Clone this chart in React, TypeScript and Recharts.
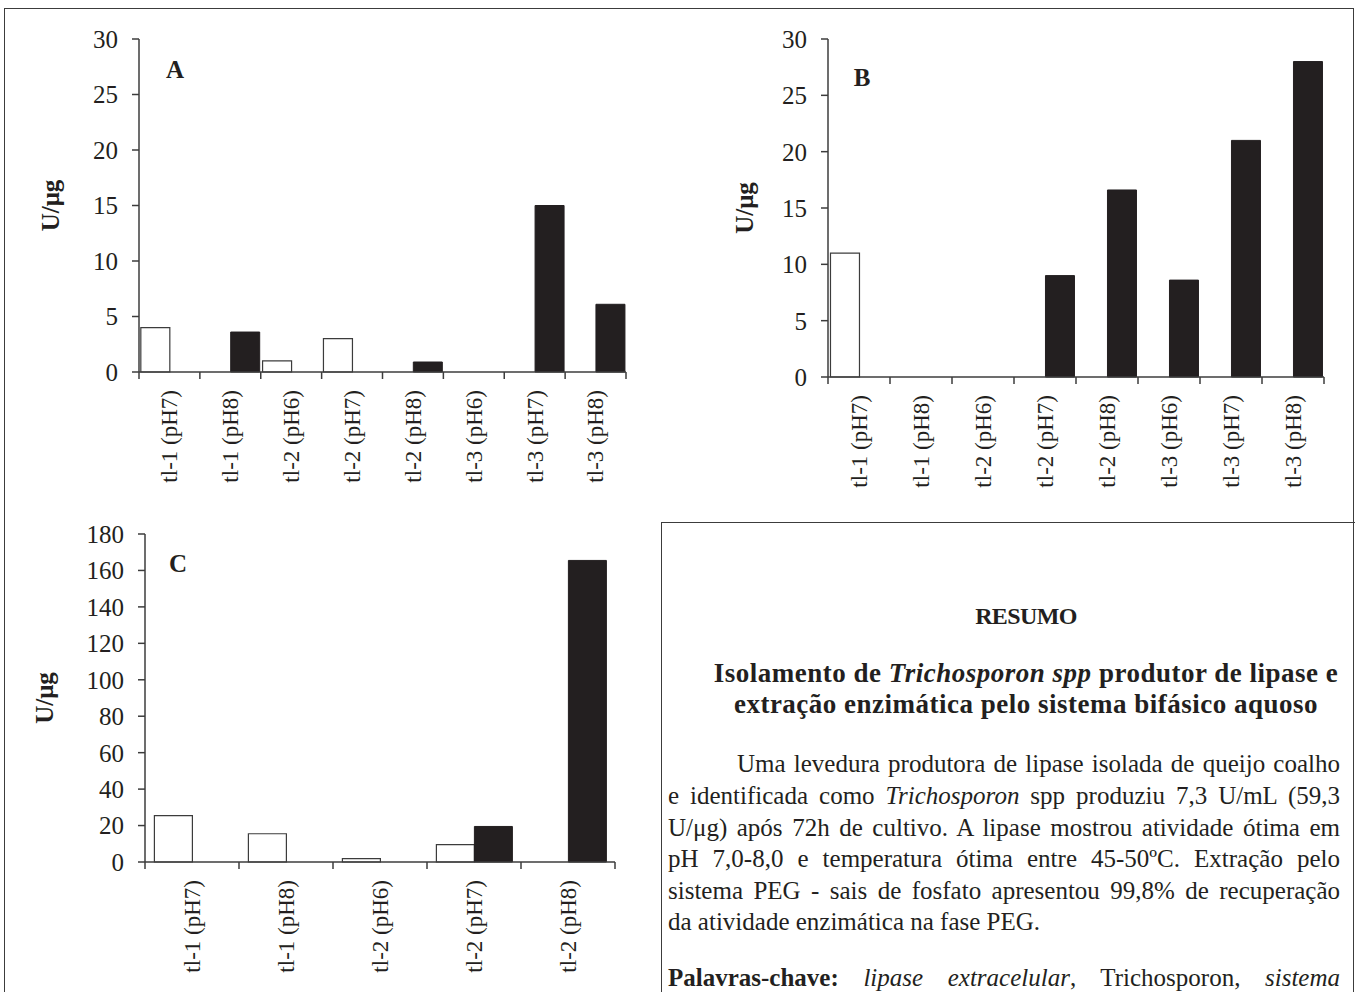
import React from "react";
import { BarChart, Bar, XAxis, YAxis } from "recharts";

const catsAB = [
  "tl-1 (pH7)",
  "tl-1 (pH8)",
  "tl-2 (pH6)",
  "tl-2 (pH7)",
  "tl-2 (pH8)",
  "tl-3 (pH6)",
  "tl-3 (pH7)",
  "tl-3 (pH8)",
];
const catsC = ["tl-1 (pH7)", "tl-1 (pH8)", "tl-2 (pH6)", "tl-2 (pH7)", "tl-2 (pH8)"];

// panel A
const aWhite = [4, 0, 1, 3, 0, 0, 0, 0];
const aBlack = [0, 3.6, 0, 0, 0.9, 0, 15, 6.1];
// panel B
const bWhite = [11, 0, 0, 0, 0, 0, 0, 0];
const bBlack = [0, 0, 0, 9, 16.6, 8.6, 21, 28];
// panel C
const cWhite = [25.5, 15.5, 1.8, 9.5, 0];
const cBlack = [0, 0, 0, 19.5, 165.5];

const ticksAB = [0, 5, 10, 15, 20, 25, 30];
const ticksC = [0, 20, 40, 60, 80, 100, 120, 140, 160, 180];

const FONT = "'Liberation Serif', 'Times New Roman', serif";
const INK = "#231f20";
const AXIS = "#3c3c3c";

interface PanelProps {
  left: number;
  top: number;
  width: number;
  height: number;
  plotLeft: number;
  plotTop: number;
  plotRight: number;
  plotBottom: number;
  cats: string[];
  white: number[];
  black: number[];
  yTicks: number[];
  gap: string;
  tag: string;
  tagX: number;
  tagY: number;
  labelX: number;
}

function Panel(p: PanelProps) {
  const data = p.cats.map((c, i) => ({ cat: c, w: p.white[i], b: p.black[i] }));
  const yW = p.plotLeft - p.left;
  const band = (p.plotRight - p.plotLeft) / p.cats.length;
  const cy = (p.plotTop + p.plotBottom) / 2 - p.top;
  const lx = p.labelX - p.left;

  // tick marks sit on the category boundaries, labels read bottom-to-top
  const catTick = (t: any) => {
    const { x, y, payload, index } = t;
    const ty = y + 18;
    return (
      <g>
        {index === 0 && (
          <line x1={x - band / 2} x2={x - band / 2} y1={y} y2={y + 7} stroke={AXIS} strokeWidth={1.5} />
        )}
        <line x1={x + band / 2} x2={x + band / 2} y1={y} y2={y + 7} stroke={AXIS} strokeWidth={1.5} />
        <text
          x={x}
          y={ty}
          dy="0.34em"
          transform={`rotate(-90 ${x} ${ty})`}
          textAnchor="end"
          fontSize={23}
          fontFamily={FONT}
          fill={INK}
        >
          {payload.value}
        </text>
      </g>
    );
  };

  return (
    <div style={{ position: "absolute", left: p.left, top: p.top }}>
      <BarChart
        width={p.width}
        height={p.height}
        data={data}
        margin={{ top: p.plotTop - p.top, right: p.left + p.width - p.plotRight, left: 0, bottom: 0 }}
        barGap={0}
        barCategoryGap={p.gap}
      >
        <XAxis
          dataKey="cat"
          height={p.top + p.height - p.plotBottom}
          interval={0}
          tickSize={0}
          tickMargin={0}
          tickLine={false}
          axisLine={{ stroke: AXIS, strokeWidth: 1.5 }}
          tick={catTick}
        />
        <XAxis
          xAxisId="top"
          orientation="top"
          type="number"
          domain={[0, 1]}
          height={0}
          tick={false}
          tickLine={false}
          axisLine={{ stroke: AXIS, strokeWidth: 1.5 }}
        />
        <YAxis
          width={yW}
          domain={[0, p.yTicks[p.yTicks.length - 1]]}
          ticks={p.yTicks}
          interval={0}
          tickSize={7}
          tickMargin={14}
          tickLine={{ stroke: AXIS, strokeWidth: 1.5 }}
          axisLine={{ stroke: AXIS, strokeWidth: 1.5 }}
          tick={{ fontSize: 25, fontFamily: FONT, fill: INK }}
          label={() => (
            <text
              x={lx}
              y={cy}
              dy="0.34em"
              transform={`rotate(-90 ${lx} ${cy})`}
              textAnchor="middle"
              fontSize={25}
              fontWeight="bold"
              fontFamily={FONT}
              fill={INK}
            >
              U/μg
            </text>
          )}
        />
        <YAxis
          yAxisId="right"
          orientation="right"
          type="number"
          domain={[0, 1]}
          width={0}
          tick={false}
          tickLine={false}
          axisLine={{ stroke: AXIS, strokeWidth: 1.5 }}
        />
        <Bar dataKey="w" fill="#ffffff" stroke={AXIS} strokeWidth={1.2} isAnimationActive={false} />
        <Bar dataKey="b" fill={INK} stroke={INK} strokeWidth={1} isAnimationActive={false} />
      </BarChart>
      <div
        style={{
          position: "absolute",
          left: p.tagX - p.left,
          top: p.tagY - p.top,
          transform: "translate(-50%, -50%)",
          fontFamily: FONT,
          fontWeight: "bold",
          fontSize: 25,
          color: INK,
          lineHeight: 1,
        }}
      >
        {p.tag}
      </div>
    </div>
  );
}

const lineStyle = (top: number, left: number, width: number, justify: boolean): React.CSSProperties => ({
  position: "absolute",
  top: top - 16,
  left,
  width,
  height: 32,
  lineHeight: "32px",
  whiteSpace: "nowrap",
  textAlign: justify ? "justify" : "left",
  textAlignLast: justify ? "justify" : "left",
  fontFamily: FONT,
  fontSize: 25,
  color: INK,
});

const centered: React.CSSProperties = { textAlign: "center", textAlignLast: "center", fontWeight: "bold" };

export default function App() {
  return (
    <div
      style={{
        position: "absolute",
        left: 0,
        top: 0,
        width: 1355,
        height: 992,
        overflow: "hidden",
        background: "#fff",
        fontFamily: FONT,
      }}
    >
      <div
        style={{
          position: "absolute",
          left: 4,
          top: 8,
          width: 1350,
          height: 1100,
          border: `1.5px solid ${AXIS}`,
          boxSizing: "border-box",
        }}
      />
      <Panel
        left={0}
        top={0}
        width={680}
        height={520}
        plotLeft={139}
        plotTop={39}
        plotRight={626}
        plotBottom={372}
        cats={catsAB}
        white={aWhite}
        black={aBlack}
        yTicks={ticksAB}
        gap="3%"
        tag="A"
        tagX={175}
        tagY={69}
        labelX={50}
      />
      <Panel
        left={680}
        top={0}
        width={675}
        height={520}
        plotLeft={828}
        plotTop={39}
        plotRight={1324}
        plotBottom={377}
        cats={catsAB}
        white={bWhite}
        black={bBlack}
        yTicks={ticksAB}
        gap="4%"
        tag="B"
        tagX={862}
        tagY={77}
        labelX={744}
      />
      <Panel
        left={0}
        top={500}
        width={660}
        height={492}
        plotLeft={145}
        plotTop={534}
        plotRight={615}
        plotBottom={862}
        cats={catsC}
        white={cWhite}
        black={cBlack}
        yTicks={ticksC}
        gap="10%"
        tag="C"
        tagX={178}
        tagY={563}
        labelX={44}
      />
      <div
        style={{
          position: "absolute",
          left: 661,
          top: 522,
          width: 700,
          height: 600,
          border: `1.5px solid ${AXIS}`,
          boxSizing: "border-box",
        }}
      />
      <div style={{ ...lineStyle(616, 826, 400, false), ...centered, fontSize: 24, letterSpacing: -0.6 }}>
        RESUMO
      </div>
      <div style={{ ...lineStyle(673, 626, 800, false), ...centered, fontSize: 27, letterSpacing: 0.5 }}>
        Isolamento de <i>Trichosporon spp</i> produtor de lipase e
      </div>
      <div style={{ ...lineStyle(704, 626, 800, false), ...centered, fontSize: 27, letterSpacing: 0.5 }}>
        extração enzimática pelo sistema bifásico aquoso
      </div>
      <div style={lineStyle(764, 737, 603, true)}>Uma levedura produtora de lipase isolada de queijo coalho</div>
      <div style={lineStyle(796, 668, 672, true)}>
        e identificada como <i>Trichosporon</i> spp produziu 7,3 U/mL (59,3
      </div>
      <div style={lineStyle(828, 668, 672, true)}>U/μg) após 72h de cultivo. A lipase mostrou atividade ótima em</div>
      <div style={lineStyle(859, 668, 672, true)}>pH 7,0-8,0 e temperatura ótima entre 45-50ºC. Extração pelo</div>
      <div style={lineStyle(891, 668, 672, true)}>sistema PEG - sais de fosfato apresentou 99,8% de recuperação</div>
      <div style={lineStyle(922, 668, 672, false)}>da atividade enzimática na fase PEG.</div>
      <div style={lineStyle(978, 668, 672, true)}>
        <b>Palavras-chave:</b> <i>lipase extracelular</i>, Trichosporon, <i>sistema</i>
      </div>
    </div>
  );
}
